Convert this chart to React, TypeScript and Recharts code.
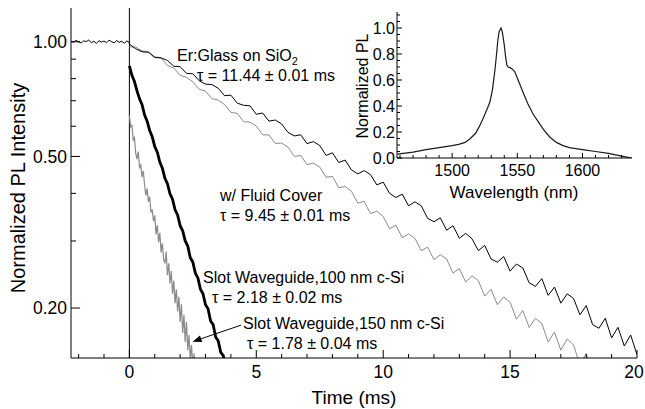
import { LineChart, Line, XAxis, YAxis, ReferenceLine } from 'recharts';

const FONT = '"Liberation Sans", Arial, Helvetica, sans-serif';

// pre-trigger signal, t = -2.3 .. 0 ms (0.1 ms steps)
const baseStart = -2.3;
const baseStep = 0.1;
const baseValues = [
  1.003, 0.996, 1.008, 0.999, 0.992, 1.005, 1.001, 1.01, 0.995, 1.002, 0.99, 1.006,
  0.998, 1.004, 0.994, 1.009, 1.0, 0.993, 1.007, 0.997, 1.003, 0.991, 1.005, 0.995,
];

// slow decays, t = 0 .. in 0.25 ms steps
const slowStep = 0.25;
const erGlassValues = [
  0.986, 0.958, 0.941, 0.938, 0.909, 0.907, 0.893, 0.862, 0.86, 0.826, 0.824, 0.79,
  0.774, 0.772, 0.755, 0.722, 0.724, 0.69, 0.681, 0.679, 0.645, 0.65, 0.619, 0.623,
  0.608, 0.578, 0.566, 0.57, 0.54, 0.547, 0.534, 0.503, 0.511, 0.482, 0.489, 0.461,
  0.45, 0.459, 0.448, 0.421, 0.428, 0.4, 0.39, 0.398, 0.371, 0.38, 0.371, 0.344,
  0.337, 0.345, 0.32, 0.329, 0.305, 0.314, 0.304, 0.283, 0.292, 0.269, 0.264, 0.273,
  0.25, 0.261, 0.255, 0.233, 0.228, 0.239, 0.216, 0.227, 0.206, 0.218, 0.212, 0.192,
  0.203, 0.181, 0.177, 0.188, 0.167, 0.178, 0.159, 0.17, 0.151,
];
const fluidValues = [
  0.97, 0.968, 0.946, 0.942, 0.913, 0.907, 0.866, 0.853, 0.816, 0.806, 0.785, 0.75,
  0.742, 0.709, 0.703, 0.684, 0.652, 0.649, 0.617, 0.615, 0.601, 0.57, 0.569, 0.541,
  0.542, 0.529, 0.5, 0.503, 0.476, 0.48, 0.469, 0.441, 0.443, 0.414, 0.417, 0.405,
  0.377, 0.381, 0.354, 0.359, 0.348, 0.323, 0.33, 0.306, 0.313, 0.305, 0.283, 0.289,
  0.268, 0.276, 0.269, 0.247, 0.254, 0.234, 0.243, 0.236, 0.215, 0.224, 0.204, 0.214,
  0.207, 0.187, 0.197, 0.178, 0.188, 0.182, 0.163, 0.173, 0.155, 0.166, 0.16, 0.142,
  0.152, 0.135, 0.145, 0.13,
];

// slot waveguide, 100 nm c-Si: t = 0 .. in 0.1 ms steps
const slot100Step = 0.1;
const slot100Values = [
  0.864, 0.816, 0.786, 0.743, 0.708, 0.683, 0.642, 0.619, 0.585, 0.563,
  0.531, 0.513, 0.483, 0.466, 0.438, 0.424, 0.399, 0.386, 0.362, 0.351,
  0.329, 0.319, 0.3, 0.291, 0.271, 0.264, 0.247, 0.24, 0.224, 0.218,
  0.204, 0.199, 0.185, 0.181, 0.168, 0.164, 0.153, 0.15, 0.139, 0.137,
];
// slot waveguide, 150 nm c-Si: t = 0 .. in 0.05 ms steps
const slot150Step = 0.05;
const slot150Values = [
  0.64, 0.598, 0.603, 0.552, 0.56, 0.51, 0.492, 0.515, 0.468, 0.475,
  0.441, 0.458, 0.42, 0.395, 0.412, 0.38, 0.392, 0.356, 0.363, 0.338,
  0.35, 0.312, 0.33, 0.298, 0.315, 0.28, 0.296, 0.268, 0.262, 0.281,
  0.244, 0.262, 0.232, 0.25, 0.218, 0.236, 0.206, 0.224, 0.196, 0.214,
  0.184, 0.205, 0.172, 0.192, 0.163, 0.184, 0.155, 0.17, 0.147, 0.16,
  0.14, 0.152, 0.133,
];

// inset PL spectrum
const spectrumWavelengths = [
  1458, 1470, 1480, 1490, 1500, 1505, 1510, 1514, 1518, 1521, 1524, 1527, 1529, 1531,
  1533, 1534, 1535, 1536, 1537.5, 1538.5, 1540, 1541, 1542, 1543, 1544.5, 1546, 1548,
  1550, 1552, 1555, 1558, 1562, 1566, 1570, 1575, 1580, 1585, 1590, 1600, 1610, 1620,
  1630, 1638,
];
const spectrumValues = [
  0.03, 0.045, 0.065, 0.08, 0.095, 0.105, 0.12, 0.15, 0.19, 0.245, 0.31, 0.38, 0.43, 0.53,
  0.69, 0.79, 0.9, 0.97, 1.0, 0.97, 0.87, 0.78, 0.715, 0.7, 0.695, 0.685, 0.665,
  0.615, 0.565, 0.49, 0.42, 0.34, 0.28, 0.22, 0.16, 0.12, 0.095, 0.08, 0.065, 0.05, 0.035,
  0.015, 0.0,
];

const xTicks = [-2, -1, 0, 1, 2, 3, 4, 5, 6, 7, 8, 9, 10, 11, 12, 13, 14, 15, 16, 17, 18, 19, 20];
const xMajor = [0, 5, 10, 15, 20];
const yTicks = [0.2, 0.3, 0.4, 0.5, 0.6, 0.7, 0.8, 0.9, 1.0];
const yMajor = [0.2, 0.5, 1.0];

const insetXTicks = [1460, 1470, 1480, 1490, 1500, 1510, 1520, 1530, 1540, 1550, 1560, 1570, 1580, 1590, 1600, 1610, 1620, 1630];
const insetXMajor = [1500, 1550, 1600];
const insetYTicks = [0, 0.05, 0.1, 0.15, 0.2, 0.25, 0.3, 0.35, 0.4, 0.45, 0.5, 0.55, 0.6, 0.65, 0.7, 0.75, 0.8, 0.85, 0.9, 0.95, 1.0, 1.05, 1.1];

// arrow from the 150 nm label to its curve (data coords)
const arrowFrom = { x: 4.4, y: 0.1804 };
const arrowTo = { x: 2.49, y: 0.1632 };

const xDomain = [-2.3, 20];
const yDomain = [0.1479, 1.226];

const series = (start: number, step: number, values: number[]) =>
  values.map((v, i) => ({ t: +(start + i * step).toFixed(3), v }));

const erGlass = series(baseStart, baseStep, baseValues).concat(series(0, slowStep, erGlassValues));
const fluid = series(0, slowStep, fluidValues);
const slot100 = series(0, slot100Step, slot100Values);
const slot150 = series(0, slot150Step, slot150Values);
const spectrum = spectrumWavelengths.map((w, i) => ({ w, p: spectrumValues[i] }));

const GRAY = '#8a8a8a';

function BottomTick({ x, y, payload }: any) {
  const major = xMajor.includes(payload.value);
  // keep the last label inside the page edge
  const dx = payload.value === 20 ? -3 : 0;
  return (
    <g>
      <line x1={x} x2={x} y1={y} y2={y - (major ? 8 : 4)} stroke="#000" />
      {major && (
        <text x={x + dx} y={y + 20} textAnchor="middle" fontSize={17.5} fontFamily={FONT} fill="#000">
          {payload.value}
        </text>
      )}
    </g>
  );
}
function TopTick({ x, y, payload }: any) {
  const major = xMajor.includes(payload.value);
  return <line x1={x} x2={x} y1={y} y2={y + (major ? 8 : 4)} stroke="#000" />;
}
function LeftTick({ x, y, payload }: any) {
  const major = yMajor.includes(payload.value);
  return (
    <g>
      <line x1={x} x2={x + (major ? 9 : 5)} y1={y} y2={y} stroke="#000" />
      {major && (
        <text x={x - 4} y={y + 6.3} textAnchor="end" fontSize={17.5} fontFamily={FONT} fill="#000">
          {payload.value.toFixed(2)}
        </text>
      )}
    </g>
  );
}
function RightTick({ x, y, payload }: any) {
  const major = yMajor.includes(payload.value);
  return <line x1={x} x2={x - (major ? 9 : 5)} y1={y} y2={y} stroke="#000" />;
}

function InsetBottomTick({ x, y, payload }: any) {
  const major = insetXMajor.includes(payload.value);
  return (
    <g>
      <line x1={x} x2={x} y1={y} y2={y - (major ? 5 : 3)} stroke="#000" />
      {major && (
        <text x={x} y={y + 18} textAnchor="middle" fontSize={16} fontFamily={FONT} fill="#000">
          {payload.value}
        </text>
      )}
    </g>
  );
}
function InsetTopTick({ x, y, payload }: any) {
  const major = insetXMajor.includes(payload.value);
  return <line x1={x} x2={x} y1={y} y2={y + (major ? 5 : 3)} stroke="#000" />;
}
const insetYMajor = (v: number) => Math.abs(v * 5 - Math.round(v * 5)) < 1e-6;
function InsetLeftTick({ x, y, payload }: any) {
  const major = insetYMajor(payload.value);
  return (
    <g>
      <line x1={x} x2={x + (major ? 5 : 3)} y1={y} y2={y} stroke="#000" />
      {major && (
        <text x={x - 2} y={y + 5.7} textAnchor="end" fontSize={16} fontFamily={FONT} fill="#000">
          {payload.value.toFixed(1)}
        </text>
      )}
    </g>
  );
}
function InsetRightTick({ x, y, payload }: any) {
  const major = insetYMajor(payload.value);
  return <line x1={x} x2={x - (major ? 5 : 3)} y1={y} y2={y} stroke="#000" />;
}

function Arrow({ x1, y1, x2, y2 }: any) {
  const ang = Math.atan2(y2 - y1, x2 - x1);
  const len = 9;
  const half = 3.5;
  const bx = x2 - len * Math.cos(ang);
  const by = y2 - len * Math.sin(ang);
  const px = -Math.sin(ang) * half;
  const py = Math.cos(ang) * half;
  return (
    <g>
      <line x1={x1} y1={y1} x2={bx} y2={by} stroke="#000" strokeWidth={1} />
      <polygon points={`${x2},${y2} ${bx + px},${by + py} ${bx - px},${by - py}`} fill="#000" />
    </g>
  );
}

const axisLine = { stroke: '#000', strokeWidth: 1 };

export default function App() {
  return (
    <div style={{ position: 'absolute', left: 0, top: 0, width: 645, height: 409, background: '#fff' }}>
      <LineChart width={645} height={409} margin={{ top: 8, right: 8, left: 0, bottom: 0 }}>
        <XAxis
          type="number"
          dataKey="t"
          domain={xDomain}
          allowDataOverflow
          ticks={xTicks}
          interval={0}
          height={51}
          tickSize={0}
          tickMargin={0}
          tickLine={false}
          axisLine={axisLine}
          tick={BottomTick}
        />
        <XAxis
          xAxisId="top"
          orientation="top"
          type="number"
          domain={xDomain}
          allowDataOverflow
          ticks={xTicks}
          interval={0}
          height={0}
          tickSize={0}
          tickMargin={0}
          tickLine={false}
          axisLine={axisLine}
          tick={TopTick}
        />
        <YAxis
          scale="log"
          type="number"
          domain={yDomain}
          allowDataOverflow
          ticks={yTicks}
          interval={0}
          width={71}
          tickSize={0}
          tickMargin={0}
          tickLine={false}
          axisLine={axisLine}
          tick={LeftTick}
        />
        <YAxis
          yAxisId="right"
          orientation="right"
          scale="log"
          type="number"
          domain={yDomain}
          allowDataOverflow
          ticks={yTicks}
          interval={0}
          width={0}
          tickSize={0}
          tickMargin={0}
          tickLine={false}
          axisLine={axisLine}
          tick={RightTick}
        />
        <ReferenceLine x={0} stroke="#000" strokeWidth={1} />
        <Line data={fluid} dataKey="v" type="linear" stroke={GRAY} strokeWidth={1} dot={false} isAnimationActive={false} />
        <Line data={erGlass} dataKey="v" type="linear" stroke="#000" strokeWidth={1} dot={false} isAnimationActive={false} />
        <Line data={slot150} dataKey="v" type="linear" stroke={GRAY} strokeWidth={1.2} dot={false} isAnimationActive={false} />
        <Line data={slot100} dataKey="v" type="linear" stroke="#000" strokeWidth={2.8} dot={false} isAnimationActive={false} />
        <ReferenceLine segment={[arrowFrom, arrowTo]} shape={Arrow} />
      </LineChart>

      <div style={{ position: 'absolute', left: 340, top: 0 }}>
        <LineChart width={300} height={205} margin={{ top: 12, right: 8, left: 0, bottom: 0 }}>
          <XAxis
            type="number"
            dataKey="w"
            domain={[1457.7, 1638]}
            allowDataOverflow
            ticks={insetXTicks}
            interval={0}
            height={47}
            tickSize={0}
            tickMargin={0}
            tickLine={false}
            axisLine={axisLine}
            tick={InsetBottomTick}
          />
          <XAxis
            xAxisId="top"
            orientation="top"
            type="number"
            domain={[1457.7, 1638]}
            allowDataOverflow
            ticks={insetXTicks}
            interval={0}
            height={0}
            tickSize={0}
            tickMargin={0}
            tickLine={false}
            axisLine={axisLine}
            tick={InsetTopTick}
          />
          <YAxis
            type="number"
            domain={[0, 1.123]}
            allowDataOverflow
            ticks={insetYTicks}
            interval={0}
            width={57}
            tickSize={0}
            tickMargin={0}
            tickLine={false}
            axisLine={axisLine}
            tick={InsetLeftTick}
          />
          <YAxis
            yAxisId="right"
            orientation="right"
            type="number"
            domain={[0, 1.123]}
            allowDataOverflow
            ticks={insetYTicks}
            interval={0}
            width={0}
            tickSize={0}
            tickMargin={0}
            tickLine={false}
            axisLine={axisLine}
            tick={InsetRightTick}
          />
          <Line data={spectrum} dataKey="p" type="linear" stroke="#1a1a1a" strokeWidth={1.2} dot={false} isAnimationActive={false} />
        </LineChart>
      </div>

      <svg
        width={645}
        height={409}
        style={{ position: 'absolute', left: 0, top: 0, pointerEvents: 'none' }}
        fontFamily={FONT}
        fill="#000"
      >
        <text transform="translate(25,188) rotate(-90)" textAnchor="middle" fontSize={20}>
          Normalized PL Intensity
        </text>
        <text x={354} y={404} textAnchor="middle" fontSize={19}>
          Time (ms)
        </text>
        <text transform="translate(368,86) rotate(-90)" textAnchor="middle" fontSize={16}>
          Normalized PL
        </text>
        <text x={514} y={198} textAnchor="middle" fontSize={17}>
          Wavelength (nm)
        </text>

        <text x={177} y={61} fontSize={16}>
          Er:Glass on SiO<tspan dy={4} fontSize={11}>2</tspan>
        </text>
        <text x={197} y={81} fontSize={16}>τ = 11.44 ± 0.01 ms</text>
        <text x={220} y={201} fontSize={16}>w/ Fluid Cover</text>
        <text x={220} y={221} fontSize={16}>τ = 9.45 ± 0.01 ms</text>
        <text x={203} y={283} fontSize={16}>Slot Waveguide,100 nm c-Si</text>
        <text x={212} y={303} fontSize={16}>τ = 2.18 ± 0.02 ms</text>
        <text x={243} y={329} fontSize={16}>Slot Waveguide,150 nm c-Si</text>
        <text x={247} y={349} fontSize={16}>τ = 1.78 ± 0.04 ms</text>
      </svg>
    </div>
  );
}
